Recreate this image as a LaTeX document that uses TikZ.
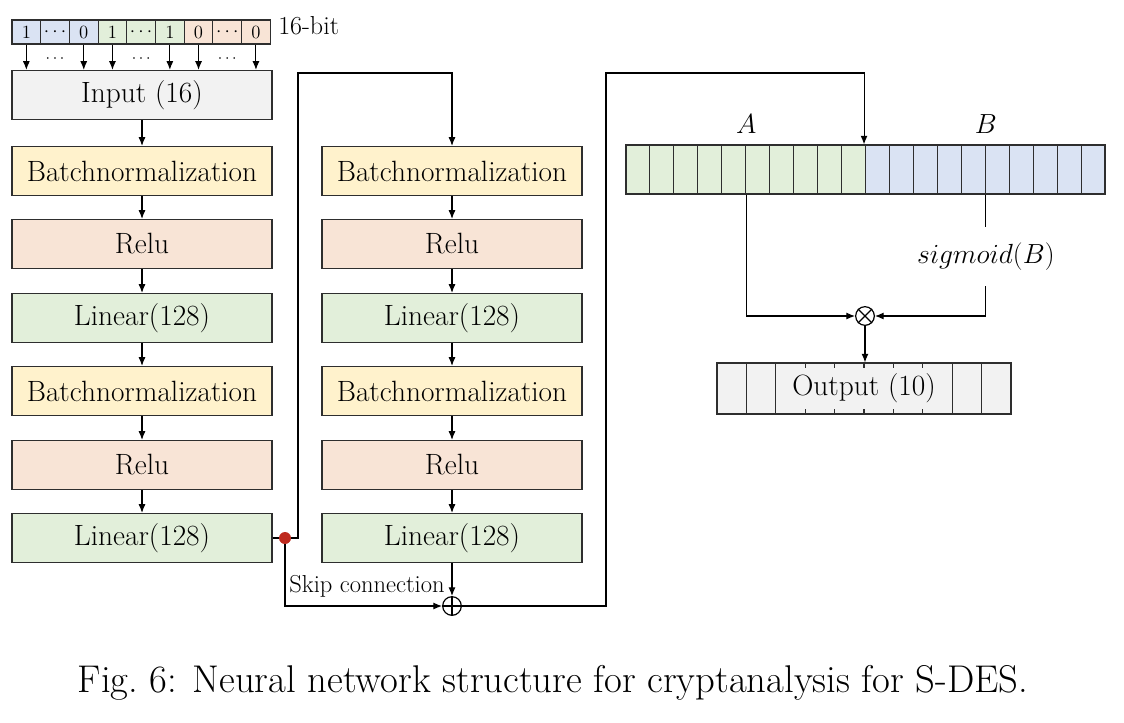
\documentclass[tikz,border=0pt]{standalone}
\usetikzlibrary{arrows.meta,calc}
\definecolor{cblue}{HTML}{DAE3F3}
\definecolor{cgreen}{HTML}{E2EFDA}
\definecolor{cpeach}{HTML}{F8E4D6}
\definecolor{cyellow}{HTML}{FFF2CC}
\definecolor{cgray}{HTML}{F2F2F2}
\definecolor{cred}{HTML}{BE2A1E}
\definecolor{cline}{HTML}{2E2E2E}
\begin{document}
\begin{tikzpicture}[x=0.75pt,y=-0.75pt,
  box/.style={draw=cline, line width=0.9pt, minimum width=195pt, minimum height=36.75pt, inner sep=0pt, font=\fontsize{22}{26}\selectfont},
  bit/.style={draw=cline, line width=0.8pt, minimum width=21.5pt, minimum height=18pt, inner sep=0pt, font=\fontsize{14}{16}\selectfont},
  cell/.style={draw=cline, line width=0.8pt, minimum width=17.96pt, minimum height=36.75pt, inner sep=0pt},
  ocell/.style={draw=cline, line width=0.8pt, fill=cgray, minimum width=22.05pt, minimum height=38.25pt, inner sep=0pt},
  arr/.style={-{Latex[length=6.5pt,width=5.2pt]}, line width=0.8pt},
  ln/.style={line width=0.8pt},
  opc/.style={circle, draw, line width=0.9pt, minimum size=14pt, inner sep=0pt},
  lbl/.style={font=\fontsize{22}{26}\selectfont, inner sep=0pt}
]
\useasboundingbox (0,0) rectangle (1124,722);

% ---- bit row
\foreach \i/\t/\c in {0/1/cblue,1/{$\cdots$}/cblue,2/0/cblue,3/1/cgreen,4/{$\cdots$}/cgreen,5/1/cgreen,6/0/cpeach,7/{$\cdots$}/cpeach,8/0/cpeach}{
  \node[bit, fill=\c] (b\i) at ({12+28.7*\i+14.35},32) {\t};
}
\node[anchor=west, font=\fontsize{19.5}{22}\selectfont, inner sep=0pt] (bits) at (278,26) {16-bit};

% ---- left column
\node[box, fill=cgray]   (in)  at (142,95)  {Input (16)};
\node[box, fill=cyellow] (bn1) at (142,171) {Batchnormalization};
\node[box, fill=cpeach]  (re1) at (142,244) {Relu};
\node[box, fill=cgreen]  (li1) at (142,318) {Linear(128)};
\node[box, fill=cyellow] (bn2) at (142,391) {Batchnormalization};
\node[box, fill=cpeach]  (re2) at (142,465) {Relu};
\node[box, fill=cgreen]  (li2) at (142,538) {Linear(128)};

% ---- right column
\node[box, fill=cyellow] (bn3) at (452,171) {Batchnormalization};
\node[box, fill=cpeach]  (re3) at (452,244) {Relu};
\node[box, fill=cgreen]  (li3) at (452,318) {Linear(128)};
\node[box, fill=cyellow] (bn4) at (452,391) {Batchnormalization};
\node[box, fill=cpeach]  (re4) at (452,465) {Relu};
\node[box, fill=cgreen]  (li4) at (452,538) {Linear(128)};

% bit arrows
\foreach \i in {0,2,3,5,6,8}{
  \draw[arr] (b\i.south) -- (b\i.south |- in.north);
}
\foreach \i in {1,4,7}{
  \node[font=\fontsize{13}{15}\selectfont, inner sep=0pt] (d\i) at ($(b\i.south)+(0,14)$) {$\cdots$};
}

% column arrows
\draw[arr] (in) -- (bn1);
\draw[arr] (bn1) -- (re1);
\draw[arr] (re1) -- (li1);
\draw[arr] (li1) -- (bn2);
\draw[arr] (bn2) -- (re2);
\draw[arr] (re2) -- (li2);
\draw[arr] (bn3) -- (re3);
\draw[arr] (re3) -- (li3);
\draw[arr] (li3) -- (bn4);
\draw[arr] (bn4) -- (re4);
\draw[arr] (re4) -- (li4);

% skip connection
\coordinate (up1) at (298,73);
\draw[arr] (li2.east) -| (up1) -| (bn3.north);
\node[opc] (plus) at (452,606) {};
\draw[line width=0.9pt] (plus.north) -- (plus.south) (plus.west) -- (plus.east);
\node[circle, fill=cred, inner sep=0pt, minimum size=9pt] (dot) at (285,538) {};
\draw[arr] (dot) |- (plus.west);
\draw[arr] (li4.south) -- (plus.north);
\node[font=\fontsize{18.4}{21}\selectfont, inner sep=0pt] (skip) at (367,586) {Skip connection};

% ---- A/B cells
\foreach \i in {0,...,19}{
  \ifnum\i<10 \def\cc{cgreen}\else\def\cc{cblue}\fi
  \node[cell, fill=\cc] (ab\i) at ({626+23.95*\i+11.975},169.5) {};
}
\node[lbl] (la) at ($(ab4.north east)+(0,-20)$) {$A$};
\node[lbl] (lb) at ($(ab14.north east)+(0,-20)$) {$B$};

\coordinate (up2) at (606,73);
\draw[arr] (plus.east) -| (up2) -| ($(ab9.north east)+(-2,0)$);

% gate
\node[opc] (mul) at (865,316) {};
\draw[line width=0.9pt] (mul.north west) -- (mul.south east) (mul.north east) -- (mul.south west);
\draw[arr] (ab4.south east) |- (mul.west);
\node[lbl, inner sep=0pt, minimum height=44pt] (sig) at ($(ab14.south east)+(0,62)$) {$sigmoid(B)$};
\draw[ln] (ab14.south east) -- (sig.north -| ab14.south east);
\draw[arr] (sig.south -| ab14.south east) |- (mul.east);

% output
\foreach \i in {0,...,9}{
  \node[ocell] (o\i) at ({717+29.4*\i+14.7},388.5) {};
}
\node[fill=cgray, minimum width=130pt, minimum height=31pt, inner sep=0pt, font=\fontsize{22}{26}\selectfont] (out) at ($(o4.center)!0.5!(o5.center)$) {Output (10)};
\draw[arr] (mul.south) -- (mul.south |- o4.north);

% caption
\node[font=\fontsize{29}{33}\selectfont, inner sep=0pt] (cap) at (553,683) {Fig.~6: Neural network structure for cryptanalysis for S-DES.};
\end{tikzpicture}
\end{document}
